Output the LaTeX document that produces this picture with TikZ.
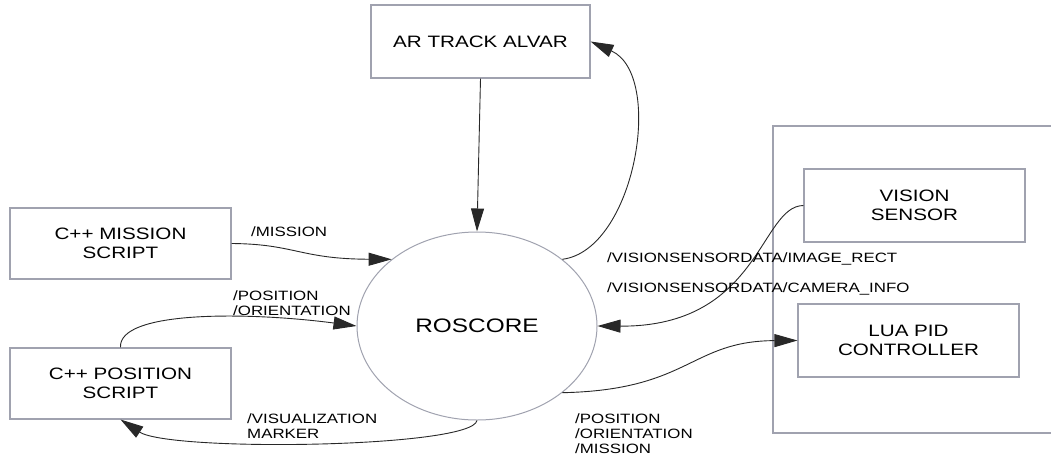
\documentclass[tikz,border=0pt]{standalone}
\usepackage{fontspec}
\setmainfont[FakeStretch=1.25]{Liberation Sans}
\usetikzlibrary{shapes.geometric,arrows.meta}
\definecolor{boxgray}{RGB}{160,162,175}
\definecolor{linegray}{RGB}{40,40,40}
\tikzset{
  procbox/.style={draw=boxgray, line width=1.1pt, rectangle, align=center, inner sep=0pt,
    font=\fontsize{16.5}{18.5}\selectfont},
  flow/.style={draw=linegray, line width=0.9pt, -{Triangle[length=23pt,width=13pt]}},
  lbl/.style={anchor=base west, align=left, inner sep=0pt, font=\fontsize{13.5}{14.8}\selectfont}
}
\begin{document}
\begin{tikzpicture}[x=1pt,y=-1pt]
\useasboundingbox (0,0) rectangle (1051,460);
% outer group frame
\draw[draw=boxgray, line width=1.1pt] (1052,126) -- (773,126) -- (773,433) -- (1052,433);
% nodes
\node[procbox, minimum width=219pt, minimum height=73pt] (ar) at (480.5,41.5) {AR TRACK ALVAR};
\node[procbox, minimum width=221pt, minimum height=71pt] (mis) at (120.5,243.5) {C++ MISSION\\SCRIPT};
\node[procbox, minimum width=221pt, minimum height=71pt] (pos) at (120.5,383.5) {C++ POSITION\\SCRIPT};
\node[procbox, minimum width=221pt, minimum height=73pt] (vis) at (914.5,205.5) {VISION\\SENSOR};
\node[procbox, minimum width=221pt, minimum height=73pt] (lua) at (908.5,340.5) {LUA PID\\CONTROLLER};
\node[draw=boxgray, line width=1pt, ellipse, minimum width=240pt, minimum height=188pt, inner sep=0pt,
  font=\fontsize{19.5}{22}\selectfont] (ros) at (477,326) {ROSCORE};
% connectors
\draw[flow] (ar.south) -- (ros.north);
\draw[flow] (ros.38) .. controls (635,250) and (665,75) .. (ar.east);
\draw[flow] (mis.east) .. controls (295,244) and (300,259) .. (ros.142);
\draw[flow] (pos.north) .. controls (118,310) and (250,312) .. (ros.west);
\draw[flow] (ros.south) .. controls (472,448) and (170,452) .. (pos.south);
\draw[flow] (vis.west) .. controls (760,206) and (760,327) .. (ros.east);
\draw[flow] (ros.-38) .. controls (690,390) and (690,341) .. (lua.west);
% labels (anchored at the baseline of their last line)
\node[lbl] (l1) at (251,236) {/MISSION};
\node[lbl] (l2) at (233,315) {/POSITION\\/ORIENTATION};
\node[lbl] (l3) at (247,438) {/VISUALIZATION\\MARKER};
\node[lbl] (l4) at (607,262) {/VISIONSENSORDATA/IMAGE\_RECT};
\node[lbl] (l5) at (607,292) {/VISIONSENSORDATA/CAMERA\_INFO};
\node[lbl] (l6) at (575,453) {/POSITION\\/ORIENTATION\\/MISSION};
\end{tikzpicture}
\end{document}
